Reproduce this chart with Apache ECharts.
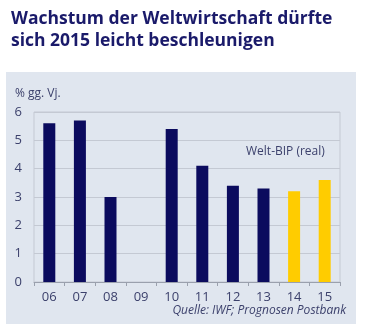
<!DOCTYPE html>
<html>
<head>
<meta charset="utf-8">
<script src="https://cdn.jsdelivr.net/npm/echarts@6/dist/echarts.min.js"></script>
<style>
  html, body { margin: 0; padding: 0; background: #ffffff; }
  #chart { width: 365px; height: 332px; }
</style>
</head>
<body>
<div id="chart"></div>
<script>
// Jahre (Kurzform) und reales Wachstum des Welt-BIP in % gg. Vj.
const years = ['06', '07', '08', '09', '10', '11', '12', '13', '14', '15'];
const actual = [5.6, 5.7, 3.0, null, 5.4, 4.1, 3.4, 3.3, null, null];
const forecast = [null, null, null, null, null, null, null, null, 3.2, 3.6];
const yTicks = [0, 1, 2, 3, 4, 5, 6];

const navy = '#0b0b5e';
const gold = '#ffcc00';
const textCol = '#3c416c';
const lineCol = '#c4c9d3';

const chart = echarts.init(document.getElementById('chart'));
chart.setOption({
  backgroundColor: '#ffffff',
  animation: false,
  textStyle: { fontFamily: 'Open Sans' },
  title: {
    text: 'Wachstum der Weltwirtschaft dürfte\nsich 2015 leicht beschleunigen',
    left: 6,
    top: 3,
    textStyle: {
      fontFamily: 'Open Sans',
      fontWeight: 'bold',
      fontSize: 17.5,
      lineHeight: 22,
      color: '#1a1a6a'
    }
  },
  graphic: [
    {
      type: 'rect',
      z: -10,
      shape: { x: 6, y: 72, width: 350, height: 252 },
      style: { fill: '#e0e6ef' }
    },
    {
      type: 'text',
      left: 15,
      top: 88,
      style: { text: '% gg. Vj.', fill: textCol, font: '12px "Open Sans"' }
    },
    {
      type: 'text',
      left: 246,
      top: 146,
      style: { text: 'Welt-BIP (real)', fill: textCol, font: '12px "Open Sans"' }
    },
    {
      type: 'text',
      right: 19,
      top: 305,
      style: { text: 'Quelle: IWF; Prognosen Postbank', fill: textCol, font: 'italic 12px "Open Sans"' }
    }
  ],
  grid: {
    left: 34, right: 25, top: 112, bottom: 50,
    show: true, borderColor: lineCol, borderWidth: 1, backgroundColor: 'transparent'
  },
  xAxis: {
    type: 'category',
    data: years,
    axisLine: { lineStyle: { color: '#9aa0ad' } },
    axisTick: { show: true, length: 4, lineStyle: { color: '#9aa0ad' } },
    axisLabel: { color: textCol, fontSize: 13, margin: 9 }
  },
  yAxis: {
    type: 'value',
    min: yTicks[0],
    max: yTicks[yTicks.length - 1],
    interval: 1,
    axisLine: { show: false },
    axisTick: { show: false },
    splitLine: { lineStyle: { color: lineCol } },
    axisLabel: { color: textCol, fontSize: 13, margin: 12 }
  },
  series: [
    {
      type: 'bar', data: actual, barWidth: 12, barGap: '-100%',
      itemStyle: { color: navy }
    },
    {
      type: 'bar', data: forecast, barWidth: 12,
      itemStyle: { color: gold }
    }
  ]
});
</script>
</body>
</html>
